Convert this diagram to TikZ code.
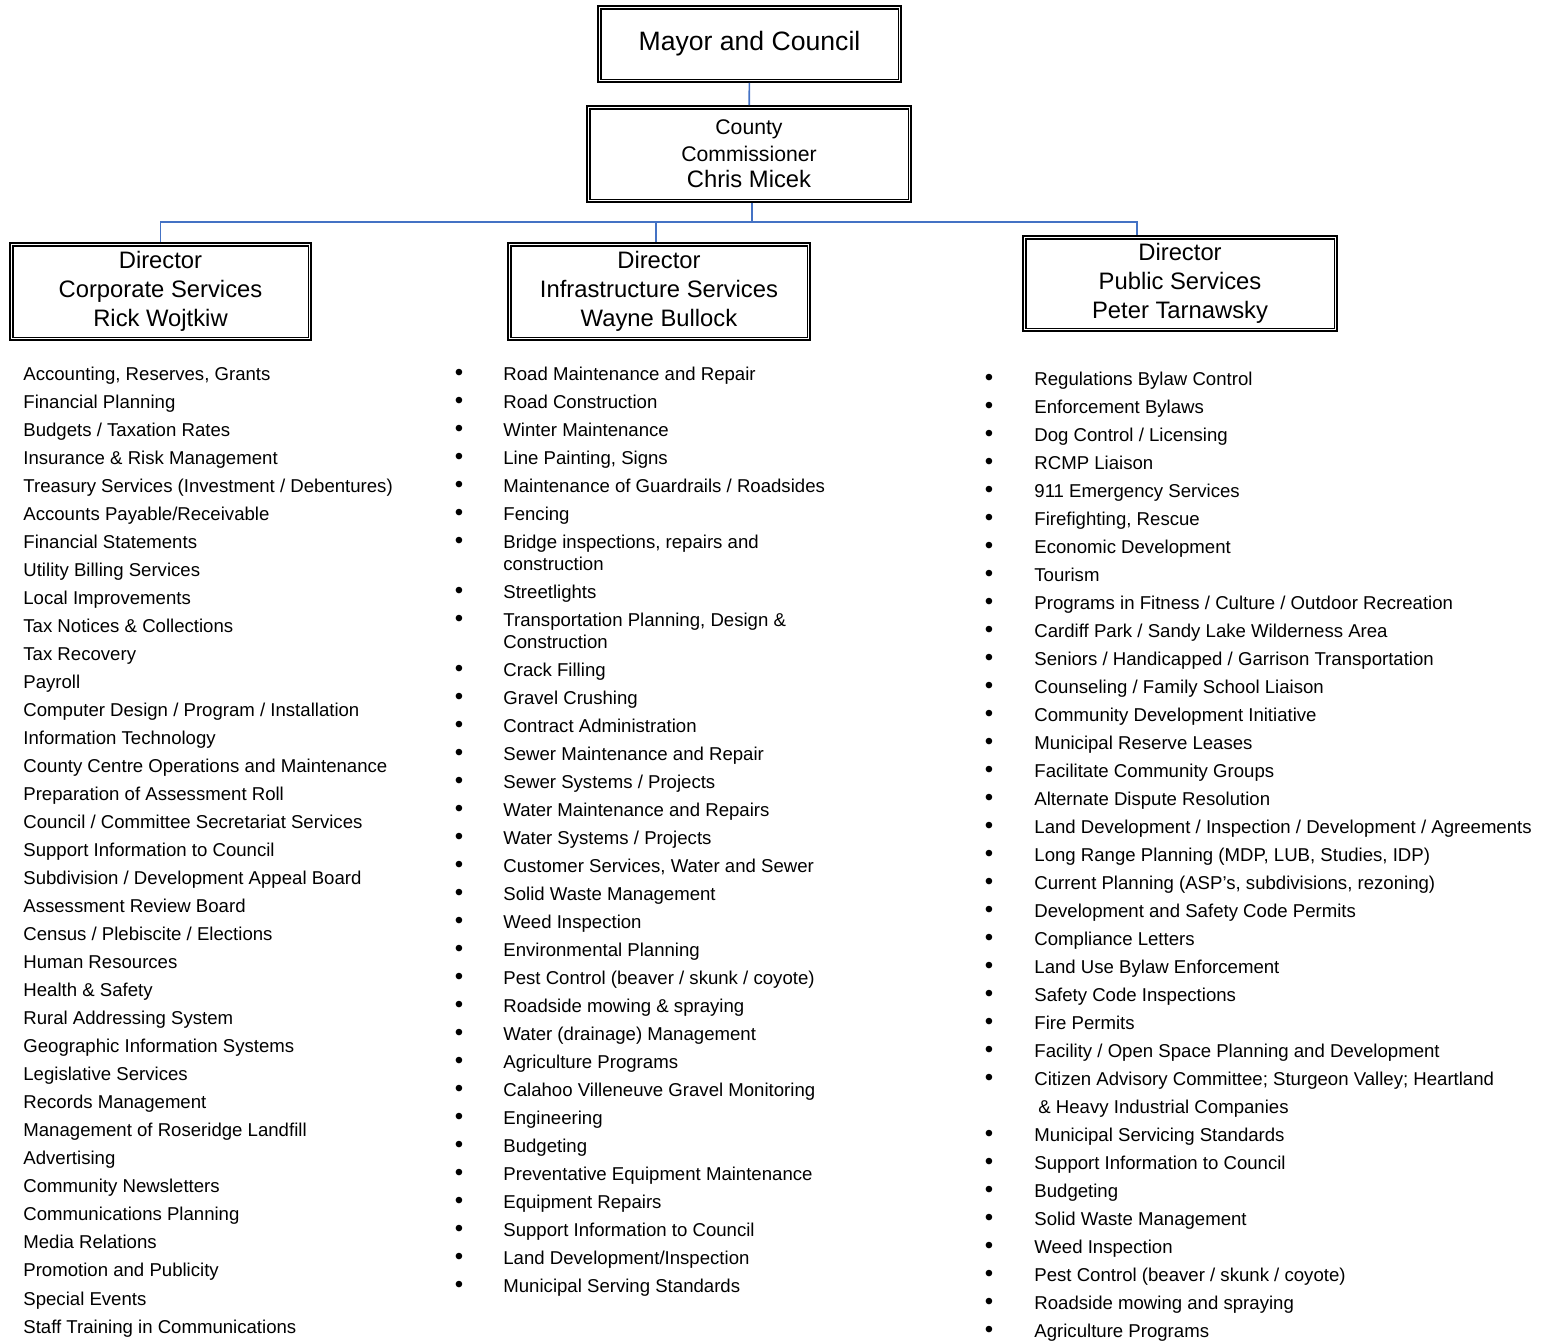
\documentclass[tikz,border=0pt]{standalone}
\usepackage{fontspec}
\setmainfont{Liberation Sans}

\begin{document}
\begin{tikzpicture}[x=0.5pt,y=-0.5pt]
		\tikzstyle{box} = [rectangle, draw=black, line width=0.9pt, inner sep=0pt, align=center, text centered]
		\tikzstyle{link} = [draw={rgb,255:red,68;green,114;blue,196}, line width=0.8pt]
		\tikzstyle{duty} = [anchor=base west, inner sep=0pt, align=left, font=\fontsize{9.3}{11}\selectfont]
		\tikzstyle{dot} = [anchor=base, inner sep=0pt, font=\fontsize{12}{11}\selectfont]
		\useasboundingbox (0,0) rectangle (1546,1340);
		\node (mayor) [box, minimum width=151.5pt, minimum height=38pt, font=\fontsize{13.3}{16}\selectfont] at (749.5,44) {Mayor and Council};
		\node (comm) [box, minimum width=162pt, minimum height=48pt, font=\fontsize{10.6}{13.2}\selectfont] at (749,154) {County\\Commissioner\\{\fontsize{11.9}{13.5}\selectfont Chris Micek}};
		\node (corp) [box, minimum width=150.5pt, minimum height=48.5pt, font=\fontsize{11.9}{14.5}\selectfont] at (160.5,291.5) {Director\\Corporate Services\\Rick Wojtkiw};
		\node (infra) [box, minimum width=151pt, minimum height=48.5pt, font=\fontsize{11.9}{14.5}\selectfont] at (659,291.5) {Director\\Infrastructure Services\\Wayne Bullock};
		\node (pub) [box, minimum width=157pt, minimum height=47.5pt, font=\fontsize{11.9}{14.5}\selectfont] at (1180,283.5) {Director\\Public Services\\Peter Tarnawsky};
		\foreach \n in {mayor,comm,corp,infra,pub}
			\draw[line width=0.6pt] ([shift={(1.9pt,-1.9pt)}]\n.north west) rectangle ([shift={(-1.9pt,1.9pt)}]\n.south east);
		\draw[link] (mayor) -- (comm);
		\draw[link] ([xshift=1.5pt]comm.south) -- ++(0,19) coordinate (hub);
		\draw[link] (hub) -| (corp.north);
		\draw[link] (hub) -| ([xshift=-1.5pt]infra.north);
		\draw[link] (hub) -| ([xshift=-21.5pt]pub.north);
		\foreach \txt [count=\i] in {{Accounting, Reserves, Grants}, Financial Planning, Budgets / Taxation Rates, Insurance \& Risk Management, Treasury Services (Investment / Debentures), Accounts Payable/Receivable, Financial Statements, Utility Billing Services, Local Improvements, Tax Notices \& Collections, Tax Recovery, Payroll, Computer Design / Program / Installation, Information Technology, County Centre Operations and Maintenance, Preparation of Assessment Roll, Council / Committee Secretariat Services, Support Information to Council, Subdivision / Development Appeal Board, Assessment Review Board, Census / Plebiscite / Elections, Human Resources, Health \& Safety, Rural Addressing System, Geographic Information Systems, Legislative Services, Records Management, Management of Roseridge Landfill, Advertising, Community Newsletters, Communications Planning, Media Relations, Promotion and Publicity, Special Events, Staff Training in Communications}
			\node (corpduty\i) [duty] at (23,{380+28.03*(\i-1)}) {\txt};
		\foreach \txt [count=\i] in {Road Maintenance and Repair, Road Construction, Winter Maintenance, {Line Painting, Signs}, Maintenance of Guardrails / Roadsides, Fencing, {Bridge inspections, repairs and\\construction}, Streetlights, {Transportation Planning, Design \&\\Construction}, Crack Filling, Gravel Crushing, Contract Administration, Sewer Maintenance and Repair, Sewer Systems / Projects, Water Maintenance and Repairs, Water Systems / Projects, {Customer Services, Water and Sewer}, Solid Waste Management, Weed Inspection, Environmental Planning, Pest Control (beaver / skunk / coyote), Roadside mowing \& spraying, Water (drainage) Management, Agriculture Programs, Calahoo Villeneuve Gravel Monitoring, Engineering, Budgeting, Preventative Equipment Maintenance, Equipment Repairs, Support Information to Council, Land Development/Inspection, Municipal Serving Standards} {
			\pgfmathsetmacro{\y}{380+28*(\i-1)+22*(\i>7)+22*(\i>9)}
			\pgfmathsetmacro{\yy}{380+28*(\i-1)+22*(\i>6)+22*(\i>8)}
			\node (infradot\i) [dot] at (459,\y) {•};
			\node (infraduty\i) [duty] at (503,\yy) {\txt};
		}
		\foreach \txt [count=\i] in {Regulations Bylaw Control, Enforcement Bylaws, Dog Control / Licensing, RCMP Liaison, 911 Emergency Services, {Firefighting, Rescue}, Economic Development, Tourism, Programs in Fitness / Culture / Outdoor Recreation, Cardiff Park / Sandy Lake Wilderness Area, Seniors / Handicapped / Garrison Transportation, Counseling / Family School Liaison, Community Development Initiative, Municipal Reserve Leases, Facilitate Community Groups, Alternate Dispute Resolution, Land Development / Inspection / Development / Agreements, {Long Range Planning (MDP, LUB, Studies, IDP)}, {Current Planning (ASP’s, subdivisions, rezoning)}, Development and Safety Code Permits, Compliance Letters, Land Use Bylaw Enforcement, Safety Code Inspections, Fire Permits, Facility / Open Space Planning and Development, Citizen Advisory Committee; Sturgeon Valley; Heartland, \hspace{2pt}\& Heavy Industrial Companies, Municipal Servicing Standards, Support Information to Council, Budgeting, Solid Waste Management, Weed Inspection, Pest Control (beaver / skunk / coyote), Roadside mowing and spraying, Agriculture Programs} {
			\ifnum\i=27 \else \node (pubdot\i) [dot] at (989,{385+28*(\i-1)}) {•}; \fi
			\node (pubduty\i) [duty] at (1034,{385+28*(\i-1)}) {\txt};
		}
	\end{tikzpicture}
\end{document}
